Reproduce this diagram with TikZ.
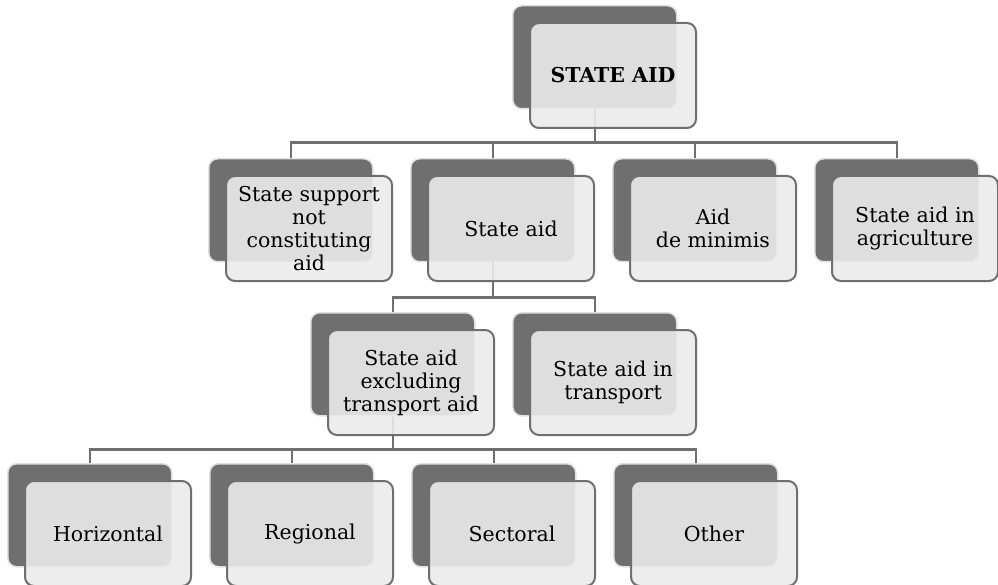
\documentclass[tikz,border=0pt]{standalone}
\usepackage{fontspec}
\setmainfont{DejaVu Serif}
\begin{document}
\definecolor{dk}{HTML}{6F6F6F}
\definecolor{lt}{HTML}{EBEBEB}
\begin{tikzpicture}[x=1pt,y=-1pt,
  backbox/.style={draw=white!88!black,line width=1.5pt,fill=dk,rounded corners=9pt,
    minimum width=164pt,minimum height=103pt,anchor=north west,inner sep=0pt},
  frontbox/.style={draw=dk,line width=2pt,fill=lt,fill opacity=0.9,rounded corners=9pt,
    minimum width=166pt,minimum height=105pt,anchor=north west,inner sep=0pt},
  lbl/.style={font=\fontsize{20.5}{23}\selectfont,align=center,inner sep=0pt},
  conn/.style={draw=dk,line width=2.2pt}]
\useasboundingbox (0,0) rectangle (998,585);
\newcommand{\pairbox}[3]{%
  \node[backbox] (#1-b) at (#2,#3) {};
}
\newcommand{\frontof}[4]{%
  \node[frontbox] (#1) at (#2+17,#3+17) {};
  \node[lbl] (#1-t) at (#1.center) {#4};
}
% back boxes
\pairbox{r}{512}{5}
\pairbox{a}{208}{158}
\pairbox{b}{410}{158}
\pairbox{c}{612}{158}
\pairbox{d}{814}{158}
\pairbox{e}{310}{312}
\pairbox{f}{512}{312}
\pairbox{g}{7}{463}
\pairbox{h}{209}{463}
\pairbox{i}{411}{463}
\pairbox{j}{613}{463}
% connectors
\foreach \c in {a,b,c,d}{\draw[conn] (r-b.south) -- ++(0,33) -| (\c-b.north);}
\foreach \c in {e,f}{\draw[conn] (b-b.south) -- ++(0,35) -| (\c-b.north);}
\foreach \c in {g,h,i,j}{\draw[conn] (e-b.south) -- ++(0,33) -| (\c-b.north);}
% front boxes
\frontof{r}{512}{5}{\textbf{STATE AID}}
\frontof{a}{208}{158}{State support\\not\\constituting\\aid}
\frontof{b}{410}{158}{State aid}
\frontof{c}{612}{158}{Aid\\de minimis}
\frontof{d}{814}{158}{State aid in\\agriculture}
\frontof{e}{310}{312}{State aid\\excluding\\transport aid}
\frontof{f}{512}{312}{State aid in\\transport}
\frontof{g}{7}{463}{Horizontal}
\frontof{h}{209}{463}{Regional}
\frontof{i}{411}{463}{Sectoral}
\frontof{j}{613}{463}{Other}
\end{tikzpicture}
\end{document}
